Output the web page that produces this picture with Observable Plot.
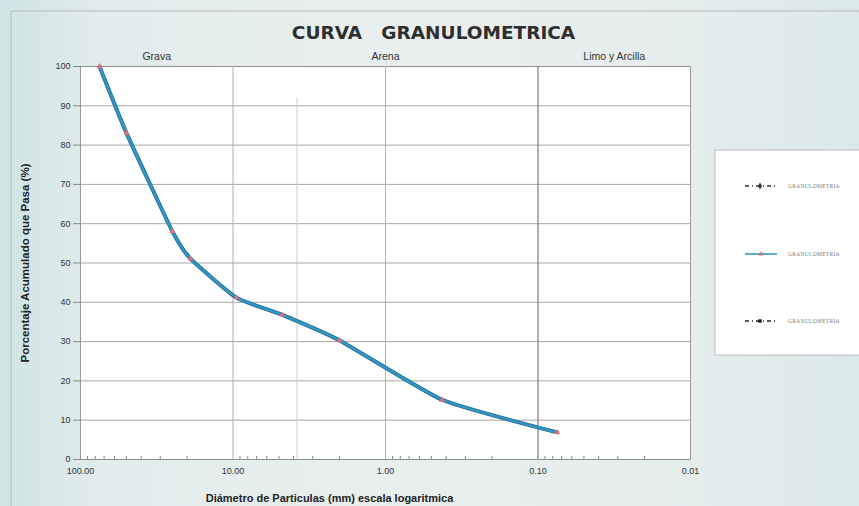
<!DOCTYPE html>
<html>
<head>
<meta charset="utf-8">
<script src="https://cdn.jsdelivr.net/npm/d3@7"></script>
<script src="https://cdn.jsdelivr.net/npm/@observablehq/plot@0.6"></script>
<style>
  html, body { margin: 0; padding: 0; }
  body {
    width: 859px; height: 506px; overflow: hidden;
    background: linear-gradient(90deg, #cfe4e5 0%, #e2ecec 12%, #e9eeee 40%, #e7eded 75%, #dbe9ea 100%);
    font-family: "Liberation Sans", Arial, sans-serif;
  }
  #chart svg { display: block; }
</style>
</head>
<body>
<div id="chart"></div>
<script>
// Data
const diametros = [75, 50, 25, 19, 9.5, 4.75, 2.0, 0.425, 0.075]; // mm
const pasa = [100, 83.1, 58.1, 51.1, 41.2, 36.8, 30.3, 15.2, 6.9];  // % que pasa
const xTicks = [100, 10, 1, 0.1, 0.01];
const yTicks = [0, 10, 20, 30, 40, 50, 60, 70, 80, 90, 100];
const minorX = [90,80,70,60,50,40,30,20, 9,8,7,6,5,4,3,2, 0.9,0.8,0.7,0.6,0.5,0.4,0.3,0.2, 0.09,0.08,0.07,0.06,0.05,0.04,0.03,0.02];
const zonas = ["Grava", "Arena", "Limo y Arcilla"];
const zonaDesde = [100, 10, 0.1];
const zonaHasta = [10, 0.1, 0.01];
const lineasDecada = [10, 1];
const lineaFina = [0.1];
const limiteArena = [3.8];
const titulo = "CURVA\u00a0\u00a0\u00a0GRANULOMETRICA";
const tituloY = "Porcentaje Acumulado que Pasa (%)";
const tituloX = "Diámetro de Particulas (mm) escala logaritmica";
const leyenda = ["GRANULOMETRIA", "GRANULOMETRIA", "GRANULOMETRIA"];

const datos = diametros.map((d, i) => ({d, p: pasa[i]}));
const zonaDatos = zonas.map((z, i) => ({z, x: Math.sqrt(zonaDesde[i] * zonaHasta[i])}));

const chart = Plot.plot({
  width: 859,
  height: 506,
  marginLeft: 80,
  marginRight: 169,
  marginTop: 66,
  marginBottom: 47,
  style: {background: "transparent", fontFamily: "'Liberation Sans', Arial, sans-serif", fontSize: "9px", color: "#333"},
  x: {type: "log", domain: [100, 0.01]},
  y: {domain: [0, 100]},
  marks: [
    Plot.frame({fill: "white", stroke: "#9a9a9a"}),
    Plot.gridY(yTicks, {stroke: "#8a8a8a", strokeOpacity: 0.75}),
    Plot.ruleX(lineasDecada, {stroke: "#b0b0b0", strokeWidth: 1}),
    Plot.ruleX(lineaFina, {stroke: "#858585", strokeWidth: 1.3}),
    Plot.ruleX(limiteArena, {y1: 0, y2: 92, stroke: "#d8c8d0", strokeWidth: 1}),
    Plot.axisX(minorX, {tickSize: -3, tickFormat: null, text: null, stroke: "#888"}),
    Plot.axisX(xTicks, {tickSize: 0, tickPadding: 8, tickFormat: d => d.toFixed(2), label: null, fill: "#333"}),
    Plot.axisY(yTicks, {tickSize: 7, tickPadding: 3, label: null, fill: "#333", stroke: "#888"}),
    Plot.line(datos, {x: "d", y: "p", curve: "cardinal", tension: 0.5, stroke: "#1f6f93", strokeWidth: 4}),
    Plot.line(datos, {x: "d", y: "p", curve: "cardinal", tension: 0.5, stroke: "#3596c6", strokeWidth: 2.3}),
    Plot.dot(datos, {x: "d", y: "p", r: 2.2, fill: "#e0707a", stroke: null, symbol: "triangle"}),
    Plot.text(zonaDatos, {x: "x", y: 100, text: "z", dy: -10, fontSize: 10.5, fill: "#333", fontFamily: "'Liberation Sans', Arial, sans-serif"}),
    Plot.text([titulo], {frameAnchor: "top", lineAnchor: "middle", dx: 48, dy: -33, fontSize: 18.5, fontWeight: 900, fill: "#2e2e2e", fontFamily: "'DejaVu Sans', sans-serif", letterSpacing: "0.6px"}),
    Plot.text([tituloY], {frameAnchor: "left", textAnchor: "middle", dx: -55, rotate: -90, fontSize: 11.5, fontWeight: "bold", fill: "#222"}),
    Plot.text([tituloX], {frameAnchor: "bottom", dx: -56, dy: 42, fontSize: 11, fontWeight: "bold", fill: "#222"})
  ]
});

document.getElementById("chart").appendChild(chart);

// Outer chart-area border and legend box
const svg = d3.select(chart);
svg.insert("rect", ":first-child")
  .attr("x", 11).attr("y", 11).attr("width", 900).attr("height", 600)
  .attr("fill", "none").attr("stroke", "#b5b9b9").attr("stroke-width", 1);

const lg = svg.append("g").attr("transform", "translate(715,150)");
lg.append("rect").attr("width", 160).attr("height", 205)
  .attr("fill", "white").attr("stroke", "#bbb");
const ly = [36, 104, 171];
// entry 1: dash-dot black with diamond
lg.append("line").attr("x1", 30).attr("x2", 60).attr("y1", ly[0]).attr("y2", ly[0])
  .attr("stroke", "#333").attr("stroke-width", 1.3).attr("stroke-dasharray", "4,3,1,3");
lg.append("path").attr("d", d3.symbol(d3.symbolDiamond, 14)()).attr("transform", `translate(45,${ly[0]})`).attr("fill", "#333");
// entry 2: solid blue with marker
lg.append("line").attr("x1", 30).attr("x2", 62).attr("y1", ly[1]).attr("y2", ly[1])
  .attr("stroke", "#3596c6").attr("stroke-width", 1.6);
lg.append("path").attr("d", d3.symbol(d3.symbolTriangle, 10)()).attr("transform", `translate(46,${ly[1]})`).attr("fill", "#c07080");
// entry 3: dash-dot black with square
lg.append("line").attr("x1", 30).attr("x2", 60).attr("y1", ly[2]).attr("y2", ly[2])
  .attr("stroke", "#222").attr("stroke-width", 1.6).attr("stroke-dasharray", "4,3,1,3");
lg.append("path").attr("d", d3.symbol(d3.symbolSquare, 12)()).attr("transform", `translate(45,${ly[2]})`).attr("fill", "#222");
leyenda.forEach((t, i) => {
  lg.append("text").attr("x", 73).attr("y", ly[i]).attr("dy", "0.35em")
    .attr("text-anchor", "start")
    .attr("font-size", 5.5).attr("fill", "#7a7a7a").attr("font-family", "'Liberation Serif', serif")
    .attr("letter-spacing", "0.3px")
    .text(t);
});
</script>
</body>
</html>
